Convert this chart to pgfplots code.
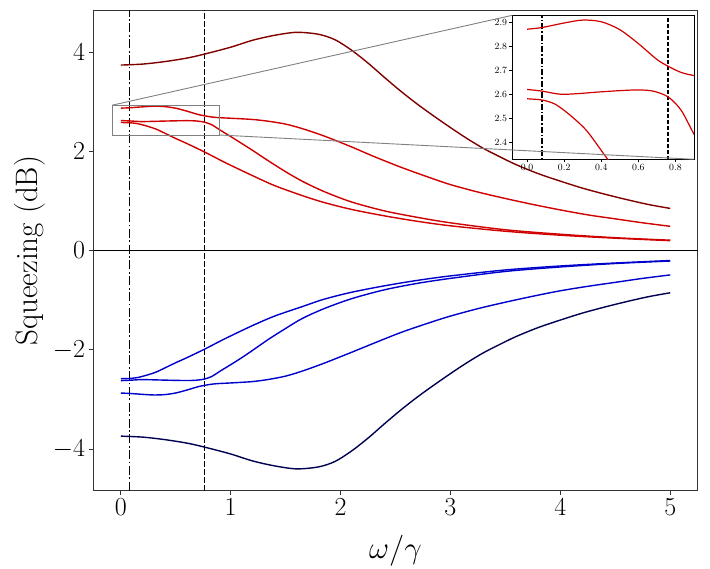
\RequirePackage{fix-cm}
\documentclass[border=0pt]{standalone}
\usepackage{pgfplots}
\pgfplotsset{compat=1.18}
\usepackage{pgfplotstable}

\definecolor{dred}{RGB}{128,0,0}
\definecolor{mred}{RGB}{208,0,0}
\definecolor{mblue}{RGB}{0,0,205}
\definecolor{dblue}{RGB}{0,0,80}

\pgfplotstableread{
x y
0 3.74
0.2 3.76
0.4 3.81
0.6 3.88
0.76 3.96
1.0 4.10
1.2 4.24
1.4 4.34
1.6 4.40
1.8 4.36
1.95 4.25
2.1 4.04
2.25 3.78
2.4 3.49
2.55 3.21
2.7 2.95
2.85 2.71
3.0 2.48
3.15 2.26
3.3 2.06
3.45 1.89
3.6 1.73
3.8 1.55
4.0 1.40
4.2 1.26
4.4 1.14
4.6 1.03
4.8 0.93
5.0 0.85
}\rA
\pgfplotstableread{
x y
0 2.872
0.08 2.879
0.2 2.898
0.3 2.910
0.4 2.903
0.5 2.870
0.6 2.812
0.7 2.746
0.76 2.718
0.83 2.692
0.9 2.679
1.0 2.668
1.2 2.643
1.35 2.605
1.5 2.55
1.65 2.46
1.85 2.31
2.1 2.09
2.3 1.90
2.55 1.68
2.8 1.48
3.0 1.33
3.25 1.18
3.5 1.05
3.75 0.93
4.0 0.82
4.25 0.72
4.5 0.64
4.75 0.56
5.0 0.49
}\rB
\pgfplotstableread{
x y
0 2.621
0.08 2.614
0.18 2.601
0.28 2.604
0.38 2.610
0.5 2.616
0.6 2.619
0.68 2.614
0.76 2.590
0.83 2.535
0.9 2.435
1.0 2.30
1.1 2.16
1.2 2.02
1.35 1.80
1.5 1.59
1.65 1.40
1.85 1.19
2.1 0.98
2.4 0.80
2.7 0.67
3.0 0.56
3.5 0.42
4.0 0.33
4.5 0.26
5.0 0.21
}\rC
\pgfplotstableread{
x y
0 2.582
0.08 2.577
0.15 2.560
0.23 2.515
0.32 2.450
0.41 2.356
0.5 2.26
0.6 2.16
0.76 1.99
0.9 1.83
1.0 1.72
1.2 1.51
1.4 1.31
1.65 1.11
1.85 0.97
2.1 0.83
2.4 0.70
2.7 0.59
3.0 0.50
3.5 0.39
4.0 0.31
4.5 0.25
5.0 0.20
}\rD
\pgfplotstableread{
x y
0 -3.74
0.2 -3.76
0.4 -3.81
0.6 -3.88
0.76 -3.96
1.0 -4.10
1.2 -4.24
1.4 -4.34
1.6 -4.40
1.8 -4.36
1.95 -4.25
2.1 -4.04
2.25 -3.78
2.4 -3.49
2.55 -3.21
2.7 -2.95
2.85 -2.71
3.0 -2.48
3.15 -2.26
3.3 -2.06
3.45 -1.89
3.6 -1.73
3.8 -1.55
4.0 -1.40
4.2 -1.26
4.4 -1.14
4.6 -1.03
4.8 -0.93
5.0 -0.85
}\bA
\pgfplotstableread{
x y
0 -2.872
0.08 -2.879
0.2 -2.898
0.3 -2.910
0.4 -2.903
0.5 -2.870
0.6 -2.812
0.7 -2.746
0.76 -2.718
0.83 -2.692
0.9 -2.679
1.0 -2.668
1.2 -2.640
1.35 -2.595
1.5 -2.53
1.65 -2.43
1.85 -2.27
2.1 -2.05
2.3 -1.87
2.55 -1.65
2.8 -1.46
3.0 -1.32
3.25 -1.17
3.5 -1.04
3.75 -0.92
4.0 -0.81
4.25 -0.72
4.5 -0.64
4.75 -0.56
5.0 -0.49
}\bB
\pgfplotstableread{
x y
0 -2.621
0.08 -2.614
0.18 -2.601
0.28 -2.604
0.38 -2.610
0.5 -2.616
0.6 -2.619
0.68 -2.614
0.76 -2.590
0.83 -2.535
0.9 -2.435
1.0 -2.30
1.1 -2.16
1.2 -2.01
1.35 -1.78
1.5 -1.57
1.65 -1.37
1.85 -1.17
2.1 -0.97
2.4 -0.79
2.7 -0.66
3.0 -0.56
3.5 -0.42
4.0 -0.33
4.5 -0.26
5.0 -0.21
}\bC
\pgfplotstableread{
x y
0 -2.582
0.08 -2.577
0.15 -2.560
0.23 -2.515
0.32 -2.450
0.41 -2.356
0.5 -2.26
0.6 -2.16
0.76 -1.99
0.9 -1.83
1.0 -1.72
1.2 -1.51
1.4 -1.32
1.65 -1.13
1.85 -0.98
2.1 -0.84
2.4 -0.71
2.7 -0.60
3.0 -0.51
3.5 -0.39
4.0 -0.31
4.5 -0.25
5.0 -0.20
}\bD

\tikzset{
  dashdotline/.style={black, line width=1.4pt, dash pattern=on 9pt off 2.5pt on 1.8pt off 2.5pt},
  dashedline/.style={black, line width=1.4pt, dash pattern=on 5.5pt off 2.5pt},
}

\begin{document}
\begin{tikzpicture}
\begin{axis}[
  name=main,
  scale only axis,
  width=604.4pt, height=480.2pt,
  xmin=-0.25, xmax=5.25,
  ymin=-4.84, ymax=4.84,
  xtick={0,1,2,3,4,5},
  ytick={-4,-2,0,2,4},
  tick align=outside,
  tick pos=left,
  major tick length=4pt,
  every tick/.style={black!80, line width=0.9pt},
  axis line style={black!80, line width=0.9pt},
  tick label style={font=\fontsize{26}{30}\selectfont, inner sep=4pt},
  label style={font=\fontsize{31}{36}\selectfont},
  xlabel={$\omega/\gamma$},
  ylabel={Squeezing (dB)},
  xlabel style={at={(axis description cs:0.5,0)}, anchor=north, yshift=-44pt, inner sep=0pt},
  ylabel style={at={(axis description cs:0,0.5)}, anchor=south, yshift=48pt, inner sep=0pt},
  clip=true,
]
\addplot[black, line width=1.4pt] coordinates {(-0.25,0) (5.25,0)};
\addplot[dashdotline] coordinates {(0.08,-4.84) (0.08,4.84)};
\addplot[dashedline] coordinates {(0.76,-4.84) (0.76,4.84)};

\addplot[dred, line width=1.4pt, smooth] table {\rA};
\addplot[mred, line width=1.4pt, smooth] table {\rB};
\addplot[mred, line width=1.4pt, smooth] table {\rC};
\addplot[mred, line width=1.4pt, smooth] table {\rD};
\addplot[dblue, line width=1.4pt, smooth] table {\bA};
\addplot[mblue, line width=1.4pt, smooth] table {\bB};
\addplot[mblue, line width=1.4pt, smooth] table {\bC};
\addplot[mblue, line width=1.4pt, smooth] table {\bD};

\draw[black!50, line width=0.9pt] (axis cs:-0.08,2.33) rectangle (axis cs:0.9,2.93);
\coordinate (r1) at (axis cs:-0.08,2.93);
\coordinate (r2) at (axis cs:0.9,2.33);
\end{axis}

\begin{axis}[
  name=ins,
  at={(main.north west)},
  xshift=419pt, yshift=-4.8pt,
  anchor=north west,
  scale only axis,
  width=181.7pt, height=144pt,
  xmin=-0.08, xmax=0.9,
  ymin=2.33, ymax=2.93,
  xtick={0,0.2,0.4,0.6,0.8},
  ytick={2.4,2.5,2.6,2.7,2.8,2.9},
  xticklabel style={/pgf/number format/.cd, fixed, fixed zerofill, precision=1},
  yticklabel style={/pgf/number format/.cd, fixed, fixed zerofill, precision=1},
  tick align=outside,
  tick pos=left,
  major tick length=3pt,
  every tick/.style={black, line width=0.6pt},
  axis line style={black, line width=0.9pt},
  tick label style={font=\fontsize{9.5}{11}\selectfont, inner sep=2pt},
  axis background/.style={fill=white},
  clip=true,
]
\addplot[dashdotline, line width=1.2pt, dash pattern=on 6pt off 2pt on 1.5pt off 2pt] coordinates {(0.08,2.2) (0.08,3.0)};
\addplot[dashedline, line width=1.2pt, dash pattern=on 4pt off 2pt] coordinates {(0.76,2.2) (0.76,3.0)};
\addplot[mred, line width=1.2pt, smooth] table {\rB};
\addplot[mred, line width=1.2pt, smooth] table {\rC};
\addplot[mred, line width=1.2pt, smooth] table {\rD};
\end{axis}

\draw[black!50, line width=0.9pt] (r1) -- (ins.north west);
\draw[black!50, line width=0.9pt] (r2) -- (ins.south east);

\pgfresetboundingbox
\path ([shift={(-93.3pt,-77.3pt)}]main.south west) rectangle ([shift={(12.3pt,10.5pt)}]main.north east);
\end{tikzpicture}
\end{document}
